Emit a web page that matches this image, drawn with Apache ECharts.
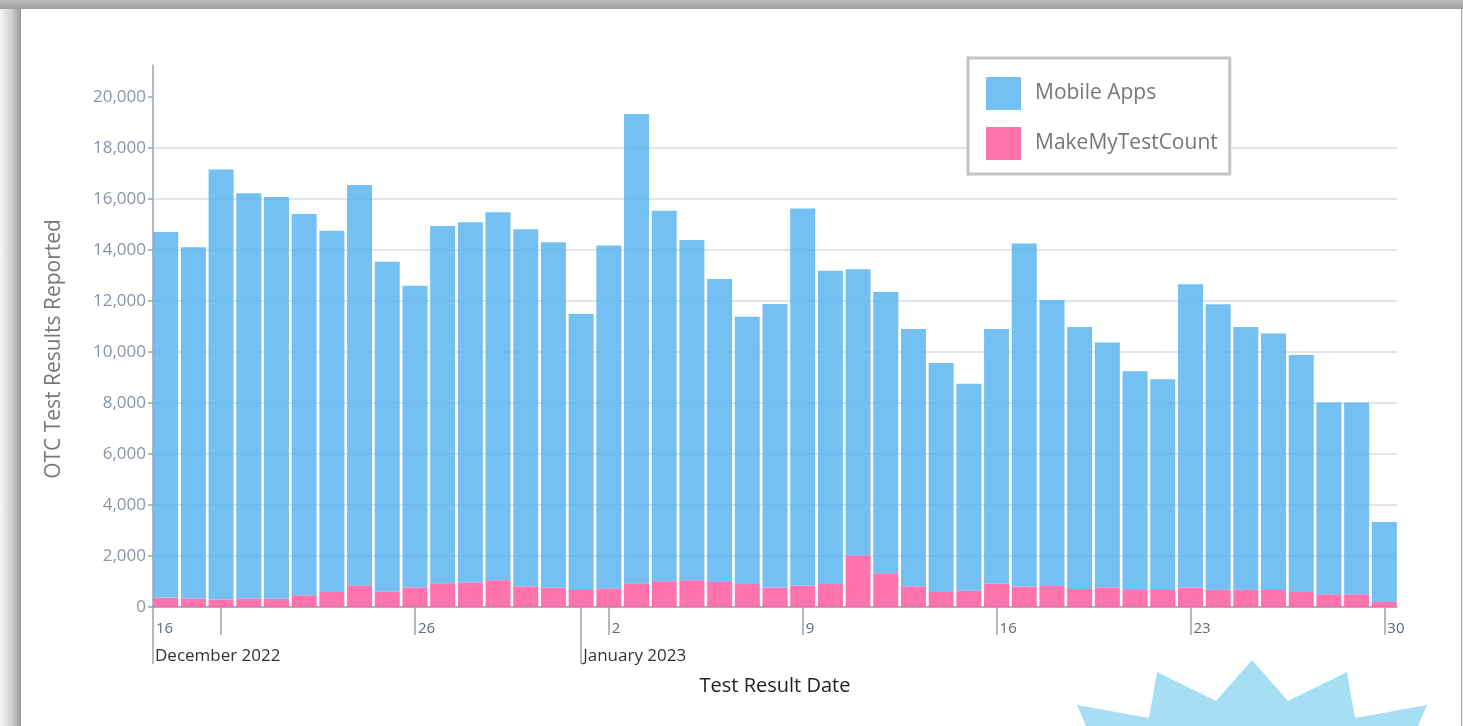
<!DOCTYPE html>
<html>
<head>
<meta charset="utf-8">
<title>OTC Test Results Reported</title>
<script src="https://cdn.jsdelivr.net/npm/echarts@6/dist/echarts.min.js"></script>
<style>
	html, body { margin: 0; padding: 0; width: 1463px; height: 726px; overflow: hidden; background: #efefef; }
	.frame-left { position: absolute; left: 0; top: 0; width: 21px; height: 726px; background: linear-gradient(to right, #f7f7f7, #cfcfcf 55%, #989898); }
	.frame-top { position: absolute; left: 0; top: 0; width: 1463px; height: 9px; background: linear-gradient(to bottom, #bdbdbd, #9d9d9d); }
	.card { position: absolute; left: 21px; top: 9px; width: 1440px; height: 717px; background: #fff; border-right: 1px solid #a8a8a8; }
	#chart { position: absolute; left: 0; top: 0; width: 1463px; height: 726px; }
</style>
</head>
<body>
<div class="frame-left"></div>
<div class="frame-top"></div>
<div class="card"></div>
<div id="chart"></div>
<script>
var dates = [
	'2022-12-17', '2022-12-18', '2022-12-19', '2022-12-20', '2022-12-21', '2022-12-22', '2022-12-23', '2022-12-24',
	'2022-12-25', '2022-12-26', '2022-12-27', '2022-12-28', '2022-12-29', '2022-12-30', '2022-12-31',
	'2023-01-01', '2023-01-02', '2023-01-03', '2023-01-04', '2023-01-05', '2023-01-06', '2023-01-07', '2023-01-08',
	'2023-01-09', '2023-01-10', '2023-01-11', '2023-01-12', '2023-01-13', '2023-01-14', '2023-01-15',
	'2023-01-16', '2023-01-17', '2023-01-18', '2023-01-19', '2023-01-20', '2023-01-21', '2023-01-22',
	'2023-01-23', '2023-01-24', '2023-01-25', '2023-01-26', '2023-01-27', '2023-01-28', '2023-01-29', '2023-01-30'
];
var makeMyTestCount = [
	370, 330, 300, 340, 330, 460, 590, 850, 600, 770, 930, 970, 1050, 810, 750,
	670, 730, 930, 1010, 1050, 980, 900, 760, 840, 900, 2020, 1320, 810, 590, 640,
	920, 800, 820, 710, 770, 670, 670, 760, 680, 680, 670, 590, 500, 500, 210
];
var mobileApps = [
	14330, 13770, 16850, 15880, 15740, 14950, 14160, 15700, 12940, 11830, 14010, 14110, 14430, 14000, 13550,
	10830, 13440, 18400, 14530, 13340, 11880, 10480, 11120, 14780, 12280, 11220, 11030, 10090, 8980, 8110,
	9980, 13450, 11220, 10270, 9600, 8570, 8260, 11890, 11190, 10300, 10050, 9290, 7520, 7520, 3120
];
var yTicks = [0, 2000, 4000, 6000, 8000, 10000, 12000, 14000, 16000, 18000, 20000];
var axisStart = '2022-12-16 13:00';
var axisEnd = '2023-01-30 11:00';
var weekTicks = ['2022-12-19', '2022-12-26', '2023-01-02', '2023-01-09', '2023-01-16', '2023-01-23', '2023-01-30'];
var dayLabels = [axisStart, '2022-12-26', '2023-01-02', '2023-01-09', '2023-01-16', '2023-01-23', '2023-01-30'];
var monthTicks = [axisStart, '2023-01-01'];
var monthNames = ['January', 'February', 'March', 'April', 'May', 'June', 'July', 'August', 'September', 'October', 'November', 'December'];

// 'YYYY-MM-DD hh:mm' -> local timestamp
function toTime(s) {
	var p = s.split(/[- :]/).map(Number);
	return new Date(p[0], p[1] - 1, p[2], p[3] || 0, p[4] || 0).getTime();
}

var axisColor = '#98a2b3';
var font = 'Open Sans';
var gridLeft = 153, gridRight = 66, barW = 25;
var xMin = toTime(axisStart);
var xMax = toTime(axisEnd);
// the time axis widens itself by one bar width so bars fit; pre-shrink it so it lands on xMin..xMax
var plotW = 1463 - gridLeft - gridRight;
var shrink = (xMax - xMin) * barW / plotW / 2;

var myChart = echarts.init(document.getElementById('chart'));
var option = {
	backgroundColor: 'transparent',
	animation: false,
	textStyle: { fontFamily: font },
	grid: {
		left: gridLeft,
		right: gridRight,
		top: 65,
		bottom: 119
	},
	legend: {
		data: ['Mobile Apps', 'MakeMyTestCount'],
		orient: 'vertical',
		left: 968,
		top: 58,
		padding: [19, 12, 14, 18],
		itemWidth: 35,
		itemHeight: 33,
		itemGap: 17,
		icon: 'rect',
		backgroundColor: '#fff',
		borderColor: '#c4c4c4',
		borderWidth: 3,
		textStyle: { color: '#777', fontSize: 21, fontFamily: font, padding: [0, 0, 0, 9] }
	},
	xAxis: [{
		// time axis that places the bars
		type: 'time',
		min: xMin + shrink,
		max: xMax - shrink,
		position: 'bottom',
		axisLine: { show: false },
		axisTick: { show: false },
		axisLabel: { show: false },
		splitLine: { show: false }
	}, {
		// weekly ticks and day labels
		type: 'value',
		min: xMin,
		max: xMax,
		position: 'bottom',
		name: 'Test Result Date',
		nameLocation: 'middle',
		nameGap: 69,
		nameTextStyle: { color: '#222', fontSize: 20, fontFamily: font },
		axisLine: { lineStyle: { color: axisColor, width: 1.5 } },
		axisTick: {
			customValues: [axisStart].concat(weekTicks).map(toTime),
			length: 28,
			lineStyle: { color: axisColor, width: 1.5 }
		},
		axisLabel: {
			customValues: dayLabels.map(toTime),
			formatter: function(v) {
				return String(new Date(v).getDate());
			},
			align: 'left',
			padding: [0, 0, 0, 3],
			margin: 14,
			color: '#5f6878',
			fontSize: 15,
			fontFamily: font
		},
		splitLine: { show: false }
	}, {
		// month ticks and labels
		type: 'value',
		min: xMin,
		max: xMax,
		position: 'bottom',
		axisLine: { show: false },
		axisTick: {
			customValues: monthTicks.map(toTime),
			length: 57,
			lineStyle: { color: axisColor, width: 1.5 }
		},
		axisLabel: {
			customValues: monthTicks.map(toTime),
			formatter: function(v) {
				var d = new Date(v);
				return monthNames[d.getMonth()] + ' ' + d.getFullYear();
			},
			align: 'left',
			padding: [0, 0, 0, 2],
			margin: 41,
			color: '#333',
			fontSize: 17,
			fontFamily: font
		},
		splitLine: { show: false }
	}],
	yAxis: {
		type: 'value',
		min: 0,
		max: 21250,
		interval: 2000,
		name: 'OTC Test Results Reported',
		nameLocation: 'middle',
		nameGap: 88,
		nameTextStyle: { color: '#777', fontSize: 21, fontFamily: font, padding: [0, 26, 0, 0] },
		axisLine: { show: true, lineStyle: { color: axisColor, width: 1.5 } },
		axisTick: {
			show: true,
			customValues: yTicks,
			length: 5,
			lineStyle: { color: axisColor, width: 1.5 }
		},
		axisLabel: {
			customValues: yTicks,
			formatter: function(v) {
				return v.toLocaleString('en-US');
			},
			margin: 7,
			color: '#8a94a6',
			fontSize: 17,
			fontFamily: font
		},
		splitLine: {
			show: true,
			showMaxLine: false,
			lineStyle: {
				color: ['#d9dee6', '#d9dee6', '#d9dee6', '#d9dee6', '#d9dee6', '#d9dee6',
					'#d9dee6', '#d9dee6', '#d9dee6', '#d9dee6', '#d9dee6', 'rgba(0,0,0,0)'],
				width: 1.5
			}
		}
	},
	series: [{
		name: 'MakeMyTestCount',
		type: 'bar',
		stack: 'total',
		xAxisIndex: 0,
		barWidth: barW,
		itemStyle: { color: 'rgba(255,92,162,0.86)' },
		data: dates.map(function(d, i) { return [toTime(d), makeMyTestCount[i]]; })
	}, {
		name: 'Mobile Apps',
		type: 'bar',
		stack: 'total',
		xAxisIndex: 0,
		barWidth: barW,
		itemStyle: { color: 'rgba(92,181,240,0.85)' },
		data: dates.map(function(d, i) { return [toTime(d), mobileApps[i]]; })
	}],
	graphic: [{
		type: 'polygon',
		z: 10,
		shape: {
			points: [[1077, 705], [1149, 718], [1157, 672], [1216, 701], [1252, 660], [1288, 701],
				[1347, 672], [1355, 718], [1427, 705], [1412, 740], [1092, 740]]
		},
		style: { fill: '#a6dff3' }
	}]
};
myChart.setOption(option);
</script>
</body>
</html>
